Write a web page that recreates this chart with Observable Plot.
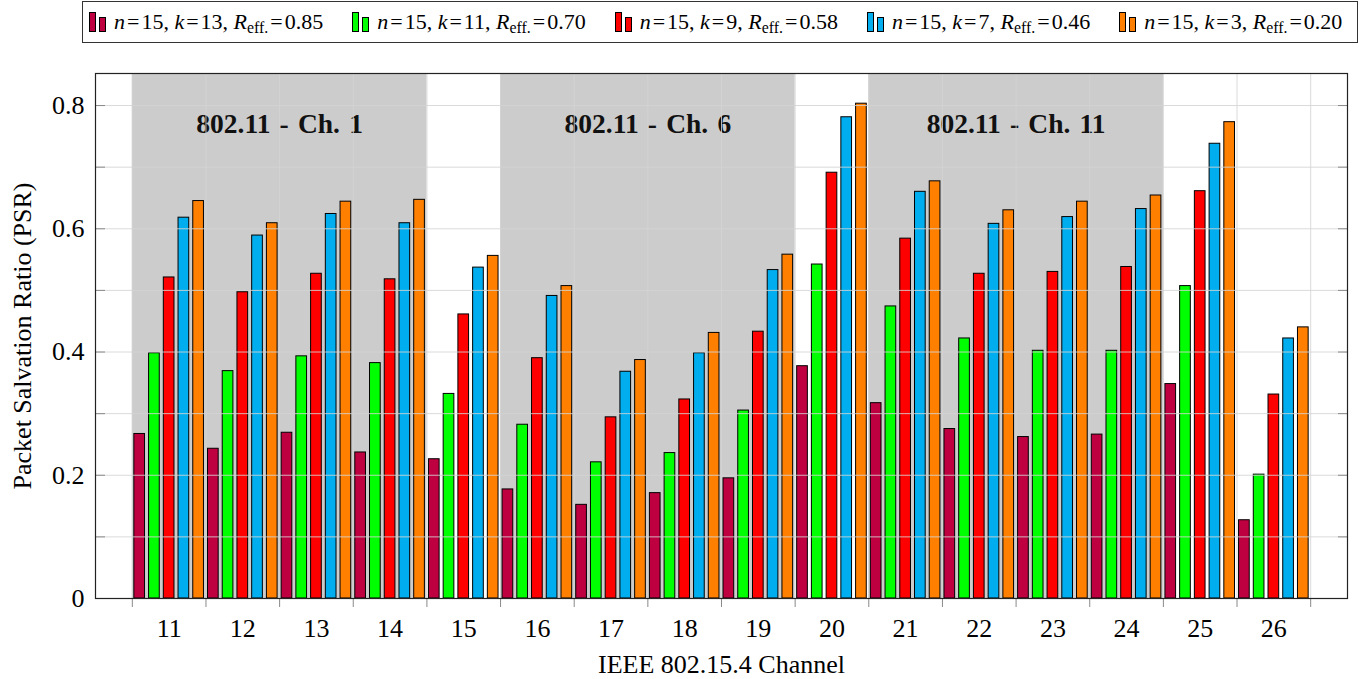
<!DOCTYPE html>
<html>
<head>
<meta charset="utf-8">
<script src="https://cdn.jsdelivr.net/npm/d3@7"></script>
<script src="https://cdn.jsdelivr.net/npm/@observablehq/plot@0.6"></script>
<style>
  body { margin: 0; background: #fff; font-family: "Liberation Serif", "Times New Roman", serif; }
  #legend {
    position: absolute; left: 82px; top: 1px; width: 1276px; height: 42px;
    box-sizing: border-box; border: 1px solid #333;
    display: flex; align-items: center; padding-left: 6px; gap: 29px;
    font-size: 22px; color: #000; white-space: nowrap;
  }
  #legend .item { display: flex; align-items: center; }
  #legend .sw { display: flex; align-items: flex-end; gap: 3px; height: 20px; margin-right: 8px; }
  #legend .sw span { display: block; width: 7px; box-sizing: border-box; border: 1px solid #000; }
  #legend sub { font-size: 0.72em; vertical-align: -0.25em; line-height: 0; }
  #legend .eq { margin: 0 2px; }
  #chart { position: absolute; left: 0; top: 48px; }
</style>
</head>
<body>
<div id="legend"></div>
<div id="chart"></div>
<script>
// IEEE 802.15.4 channels on the x axis
const channels = [11, 12, 13, 14, 15, 16, 17, 18, 19, 20, 21, 22, 23, 24, 25, 26];

// Packet salvation ratio per channel, one array per (n, k) code
const psrK13 = [0.267, 0.243, 0.269, 0.237, 0.226, 0.177, 0.152, 0.171, 0.195, 0.377, 0.317, 0.275, 0.262, 0.266, 0.348, 0.127];
const psrK11 = [0.398, 0.369, 0.393, 0.382, 0.332, 0.282, 0.221, 0.236, 0.305, 0.542, 0.474, 0.422, 0.402, 0.402, 0.507, 0.201];
const psrK9  = [0.521, 0.497, 0.527, 0.518, 0.461, 0.390, 0.294, 0.323, 0.433, 0.691, 0.584, 0.527, 0.530, 0.538, 0.661, 0.331];
const psrK7  = [0.618, 0.589, 0.624, 0.609, 0.537, 0.491, 0.368, 0.398, 0.533, 0.781, 0.660, 0.608, 0.619, 0.632, 0.738, 0.422];
const psrK3  = [0.645, 0.609, 0.644, 0.647, 0.556, 0.507, 0.387, 0.431, 0.558, 0.803, 0.677, 0.630, 0.644, 0.654, 0.773, 0.440];

// Code parameters for the five series
const seriesN = [15, 15, 15, 15, 15];
const seriesK = [13, 11, 9, 7, 3];
const seriesReff = ["0.85", "0.70", "0.58", "0.46", "0.20"];
const seriesValues = [psrK13, psrK11, psrK9, psrK7, psrK3];
const seriesColors = ["#bf0040", "#00ff00", "#ff0000", "#00aeef", "#ff8000"];

// Overlapping 802.11 channels (shaded spans of 802.15.4 channels)
const wifiLabels = ["802.11 \u200A- \u200ACh. \u200A1", "802.11 \u200A- \u200ACh. \u200A6", "802.11 \u200A- \u200ACh. \u200A11"];
const wifiFirst = [11, 16, 21];
const wifiLast = [14, 19, 24];

const yTicks = [0, 0.2, 0.4, 0.6, 0.8];
const yGrid = [0.1, 0.2, 0.3, 0.4, 0.5, 0.6, 0.7, 0.8];

// ---- build tables ----
const seriesKeys = seriesK.map(k => `k${k}`);
const rows = [];
seriesValues.forEach((vals, i) => {
  vals.forEach((v, j) => rows.push({channel: channels[j], slot: i, series: seriesKeys[i], value: v}));
});
const bands = wifiLabels.map((label, i) => ({label, x1: wifiFirst[i] - 0.5, x2: wifiLast[i] + 0.5, mid: (wifiFirst[i] + wifiLast[i]) / 2}));
const boundaries = channels.map(c => c - 0.5).concat([channels[channels.length - 1] + 0.5]);

// bar layout inside each channel group (fraction of one channel step)
const pitch = 0.2, barW = 0.145;
const barX1 = d => d.channel - 2 * pitch + d.slot * pitch - barW / 2;
const barX2 = d => barX1(d) + barW;

// ---- legend ----
const legend = document.getElementById("legend");
seriesK.forEach((k, i) => {
  const item = document.createElement("div");
  item.className = "item";
  item.innerHTML =
    `<span class="sw"><span style="height:20px;background:${seriesColors[i]}"></span>` +
    `<span style="height:15px;background:${seriesColors[i]}"></span></span>` +
    `<span><i>n</i><span class="eq">=</span>${seriesN[i]}, <i>k</i><span class="eq">=</span>${k}, ` +
    `<i>R</i><sub>eff.</sub><span class="eq">=</span>${seriesReff[i]}</span>`;
  legend.appendChild(item);
});

// ---- chart ----
const gridColor = "#d4d4d4";
const chart = Plot.plot({
  width: 1361,
  height: 631,
  marginTop: 25,
  marginBottom: 81,
  marginLeft: 95,
  marginRight: 14,
  style: {fontFamily: "Liberation Serif, Times New Roman, serif", fontSize: "26px", color: "#000", background: "#fff"},
  x: {type: "linear", domain: [10, 27]},
  y: {domain: [0, 0.852]},
  color: {domain: seriesKeys, range: seriesColors},
  marks: [
    Plot.rect(bands, {x1: "x1", x2: "x2", y1: 0, y2: 0.852, fill: "#cccccc"}),
    Plot.text(bands, {x: "mid", text: "label", frameAnchor: "top", lineAnchor: "middle", dy: 51, fontWeight: "bold", fontSize: 27.5, fill: "#111"}),
    Plot.rect(rows, {x1: barX1, x2: barX2, y1: 0, y2: "value", fill: "series", stroke: "#000", strokeWidth: 1}),
    Plot.ruleY(yGrid, {stroke: gridColor, strokeOpacity: 0.85}),
    Plot.ruleX(boundaries, {stroke: gridColor, strokeOpacity: 0.85}),
    Plot.axisY(yGrid.concat([0]), {anchor: "left", tickSize: -10, stroke: "#8a8a8a", fill: "none", label: null}),
    Plot.axisY(yGrid, {anchor: "right", tickSize: -10, stroke: "#8a8a8a", fill: "none", label: null}),
    Plot.axisY(yTicks, {anchor: "left", tickSize: 0, tickPadding: 11, tickFormat: d => d === 0 ? "0" : d.toFixed(1), label: null}),
    Plot.axisX(boundaries, {anchor: "bottom", tickSize: 9, stroke: "#8a8a8a", fill: "none", label: null}),
    Plot.axisX(channels, {anchor: "bottom", tickSize: 0, tickPadding: 20, tickFormat: d => String(d), label: null}),
    Plot.text(["Packet Salvation Ratio (PSR)"], {frameAnchor: "left", textAnchor: "middle", lineAnchor: "middle", dx: -73, rotate: -90, fontSize: 26}),
    Plot.text(["IEEE 802.15.4 Channel"], {frameAnchor: "bottom", textAnchor: "middle", lineAnchor: "middle", dy: 66, fontSize: 26}),
    Plot.frame({stroke: "#222", strokeWidth: 1.2})
  ]
});
document.getElementById("chart").appendChild(chart);
</script>
</body>
</html>
